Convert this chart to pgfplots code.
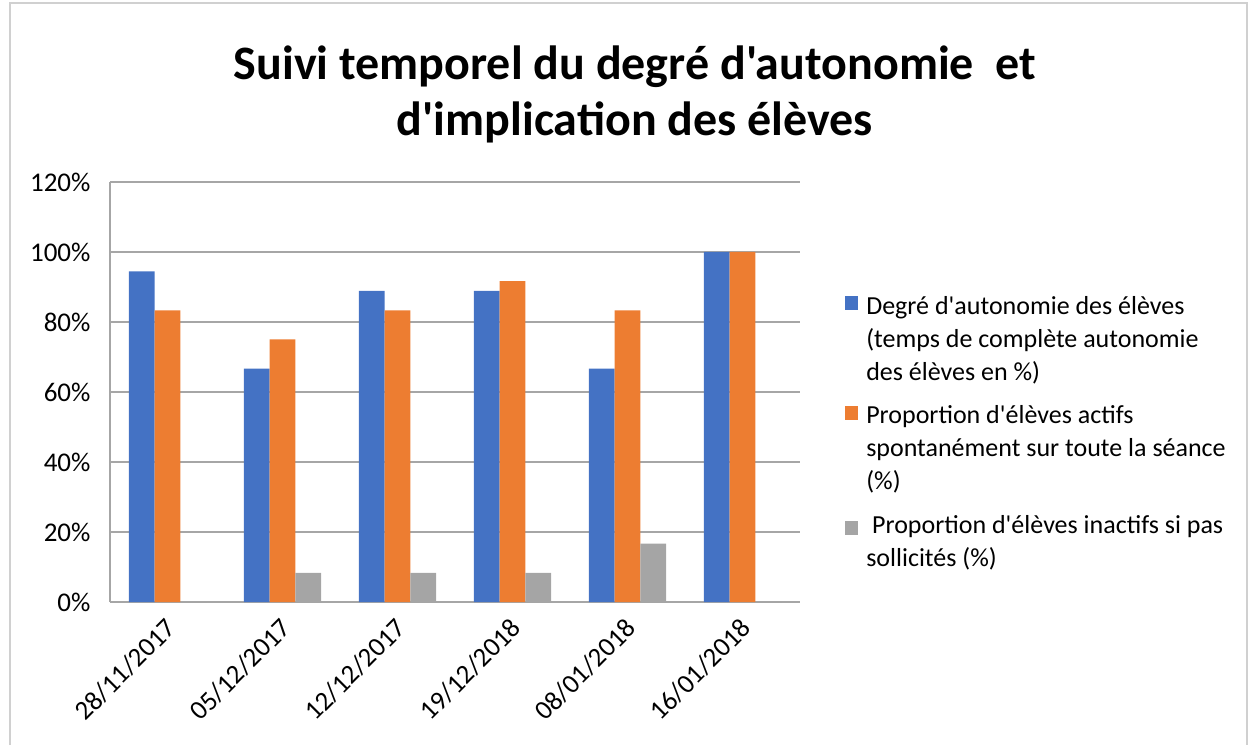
\documentclass[border=0pt]{standalone}
\usepackage{fontspec}
\newfontfamily\carl{Carlito}
\usepackage{pgfplots}
\pgfplotsset{compat=1.18}
\definecolor{cblue}{HTML}{4472C4}
\definecolor{corange}{HTML}{ED7D31}
\definecolor{cgray}{HTML}{A5A5A5}
\definecolor{gridc}{HTML}{A6A6A6}
\definecolor{framec}{HTML}{D0D0D0}
\begin{document}
\carl
\begin{tikzpicture}[x=1pt,y=1pt]
\useasboundingbox (0,0) rectangle (1253,745);
\draw[framec,line width=1.2pt] (10,0) -- (10,742) -- (1247,742) -- (1247,0);
\node[align=center,font=\carl\fontsize{48}{56}\selectfont\bfseries] at (635,651) {Suivi temporel du degré d'autonomie\ \ et\\d'implication des élèves};
\begin{axis}[
  at={(110pt,143pt)}, anchor=south west,
  scale only axis, width=690pt, height=420pt,
  ybar=0pt, bar width=25.7pt,
  xmin=-0.5, xmax=5.5, ymin=0, ymax=120,
  xtick={0,1,2,3,4,5},
  xticklabels={28/11/2017,05/12/2017,12/12/2017,19/12/2018,08/01/2018,16/01/2018},
  ytick={0,20,40,60,80,100,120},
  yticklabels={0\%,20\%,40\%,60\%,80\%,100\%,120\%},
  axis x line*=bottom, axis y line*=left,
  axis line style={gridc,line width=1.3pt,-},
  ymajorgrids, grid style={gridc,line width=1.3pt},
  major tick length=0pt,
  tick label style={font=\carl\fontsize{27}{30}\selectfont},
  yticklabel style={xshift=-16pt},
  xticklabel style={rotate=45,anchor=east,yshift=-18pt,xshift=-9pt},
  legend style={draw=none,fill=none,at={(1.061,0.734)},anchor=north west,
    font=\carl\fontsize{26}{33}\selectfont,
    row sep=24pt, column sep=8pt,
    nodes={inner sep=0pt,align=left}},
  legend cell align=left,
]
\addplot[fill=cblue,draw=none,legend image code/.code={\fill[cblue] (0pt,29pt) rectangle (13pt,43pt);}] coordinates {(0,94.44) (1,66.67) (2,88.89) (3,88.89) (4,66.67) (5,100)};
\addlegendentry{Degré d'autonomie des élèves\\(temps de complète autonomie\\des élèves en \%)}
\addplot[fill=corange,draw=none,legend image code/.code={\fill[corange] (0pt,29pt) rectangle (13pt,43pt);}] coordinates {(0,83.33) (1,75) (2,83.33) (3,91.67) (4,83.33) (5,100)};
\addlegendentry{Proportion d'élèves actifs\\spontanément sur toute la séance\\(\%)}
\addplot[fill=cgray,draw=none,legend image code/.code={\fill[cgray] (0pt,7pt) rectangle (13pt,21pt);}] coordinates {(0,0) (1,8.33) (2,8.33) (3,8.33) (4,16.67) (5,0)};
\addlegendentry{\ Proportion d'élèves inactifs si pas\\sollicités (\%)}
\end{axis}
\end{tikzpicture}
\end{document}
